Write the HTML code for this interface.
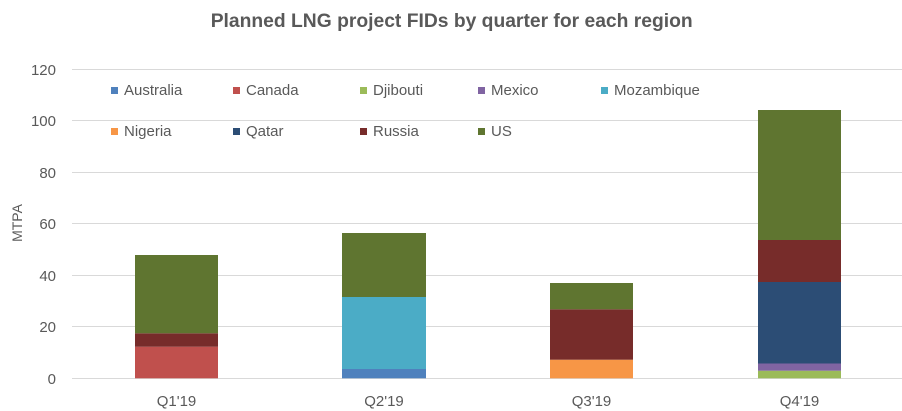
<!DOCTYPE html>
<html><head><meta charset="utf-8"><style>
html,body{margin:0;padding:0;background:#fff;}
svg{display:block;}
text{font-family:"Liberation Sans",Arial,sans-serif;fill:#595959;}
</style></head><body>
<svg width="902" height="411" viewBox="0 0 902 411" xmlns="http://www.w3.org/2000/svg">
<rect width="902" height="411" fill="#fff"/>
<text x="451.7" y="27" font-size="19.5" font-weight="bold" text-anchor="middle" textLength="482" lengthAdjust="spacingAndGlyphs">Planned LNG project FIDs by quarter for each region</text>
<g stroke="#d9d9d9" stroke-width="1">
<line x1="72" y1="69.5" x2="902" y2="69.5"/>
<line x1="72" y1="120.5" x2="902" y2="120.5"/>
<line x1="72" y1="172.5" x2="902" y2="172.5"/>
<line x1="72" y1="223.5" x2="902" y2="223.5"/>
<line x1="72" y1="275.5" x2="902" y2="275.5"/>
<line x1="72" y1="326.5" x2="902" y2="326.5"/>
<line x1="72" y1="378.5" x2="902" y2="378.5"/>
</g>
<g font-size="15" text-anchor="end">
<text x="56" y="75">120</text>
<text x="56" y="126">100</text>
<text x="56" y="178">80</text>
<text x="56" y="229">60</text>
<text x="56" y="281">40</text>
<text x="56" y="332">20</text>
<text x="56" y="384">0</text>
</g>
<text transform="translate(22,223) rotate(-90)" font-size="14" text-anchor="middle">MTPA</text>
<!-- Q1 -->
<rect x="135" y="346.7" width="83" height="31.6" fill="#C0504D"/>
<rect x="135" y="333.3" width="83" height="13.4" fill="#772C2A"/>
<rect x="135" y="255" width="83" height="78.3" fill="#5F7530"/>
<!-- Q2 -->
<rect x="342" y="369" width="84" height="9.3" fill="#4F81BD"/>
<rect x="342" y="297" width="84" height="72" fill="#4BACC6"/>
<rect x="342" y="233" width="84" height="64" fill="#5F7530"/>
<!-- Q3 -->
<rect x="550" y="359.7" width="83" height="18.6" fill="#F79646"/>
<rect x="550" y="309.3" width="83" height="50.4" fill="#772C2A"/>
<rect x="550" y="283" width="83" height="26.3" fill="#5F7530"/>
<!-- Q4 -->
<rect x="758" y="370.7" width="83" height="7.6" fill="#9BBB59"/>
<rect x="758" y="363.5" width="83" height="7.2" fill="#8064A2"/>
<rect x="758" y="282" width="83" height="81.5" fill="#2C4D75"/>
<rect x="758" y="240" width="83" height="42" fill="#772C2A"/>
<rect x="758" y="110" width="83" height="130" fill="#5F7530"/>
<g font-size="15" text-anchor="middle">
<text x="176.5" y="406">Q1'19</text>
<text x="384" y="406">Q2'19</text>
<text x="591.5" y="406">Q3'19</text>
<text x="799.5" y="406">Q4'19</text>
</g>
<!-- legend -->
<g font-size="15">
<rect x="111" y="87" width="7" height="7" fill="#4F81BD"/><text x="124" y="95">Australia</text>
<rect x="233" y="87" width="7" height="7" fill="#C0504D"/><text x="246" y="95">Canada</text>
<rect x="360" y="87" width="7" height="7" fill="#9BBB59"/><text x="373" y="95">Djibouti</text>
<rect x="478" y="87" width="7" height="7" fill="#8064A2"/><text x="491" y="95">Mexico</text>
<rect x="601" y="87" width="7" height="7" fill="#4BACC6"/><text x="614" y="95">Mozambique</text>
<rect x="111" y="128" width="7" height="7" fill="#F79646"/><text x="124" y="136">Nigeria</text>
<rect x="233" y="128" width="7" height="7" fill="#2C4D75"/><text x="246" y="136">Qatar</text>
<rect x="360" y="128" width="7" height="7" fill="#772C2A"/><text x="373" y="136">Russia</text>
<rect x="478" y="128" width="7" height="7" fill="#5F7530"/><text x="491" y="136">US</text>
</g>
</svg>
</body></html>
